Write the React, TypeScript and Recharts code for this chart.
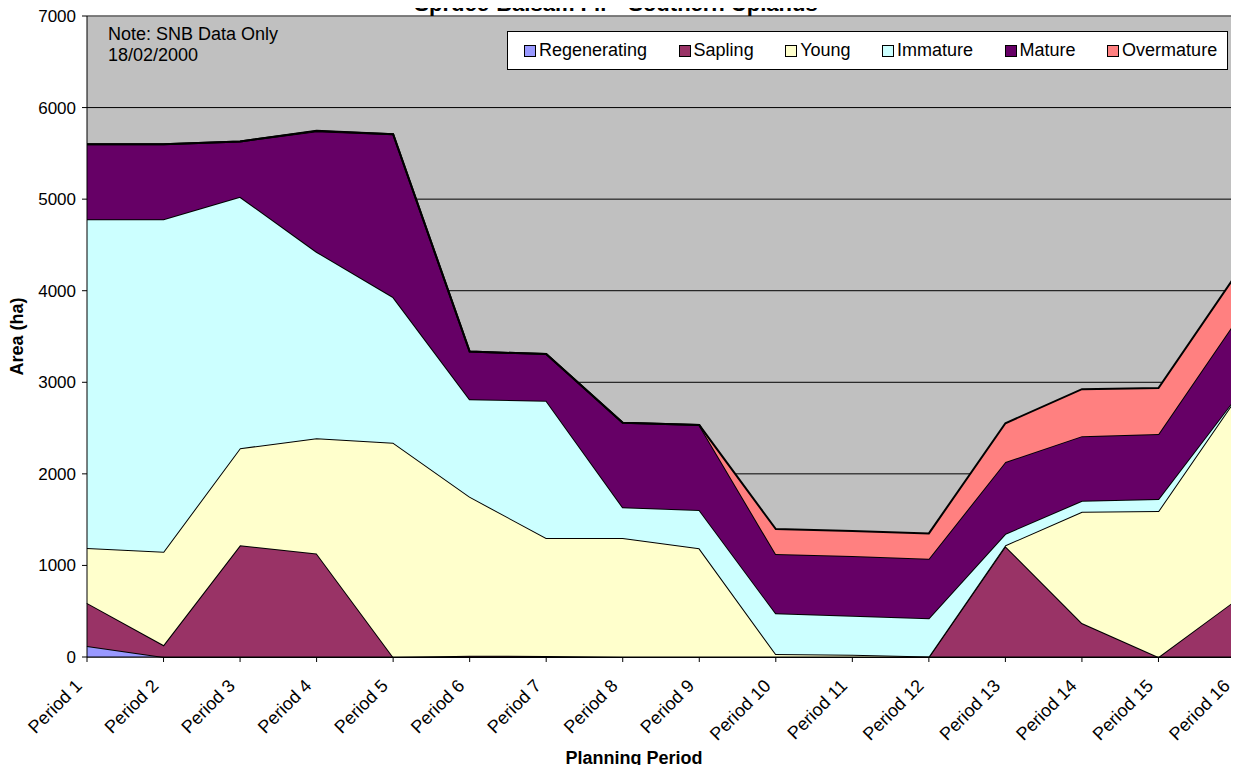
import React from 'react';
import { AreaChart, Area, XAxis, YAxis, CartesianGrid, Legend, ReferenceLine } from 'recharts';

const periods = ['Period 1', 'Period 2', 'Period 3', 'Period 4', 'Period 5', 'Period 6', 'Period 7', 'Period 8', 'Period 9', 'Period 10', 'Period 11', 'Period 12', 'Period 13', 'Period 14', 'Period 15', 'Period 16'];
const regenerating = [120, 0, 0, 0, 0, 0, 0, 0, 0, 0, 0, 0, 0, 0, 0, 0];
const sapling = [470, 130, 1220, 1130, 0, 15, 12, 0, 0, 0, 0, 0, 1210, 370, 0, 615];
const young = [600, 1020, 1060, 1260, 2340, 1735, 1288, 1300, 1187, 33, 25, 5, 10, 1216, 1594, 2191];
const immature = [3590, 3630, 2745, 2035, 1590, 1065, 1498, 334, 418, 444, 426, 417, 125, 120, 131, 15];
const mature = [820, 820, 605, 1317, 1780, 520, 510, 924, 928, 647, 652, 651, 785, 706, 709, 836];
const overmature = [0, 0, 0, 5, 0, 0, 0, 0, 0, 273, 272, 277, 423, 513, 503, 503];
const yTicks = [0, 1000, 2000, 3000, 4000, 5000, 6000, 7000];

const seriesNames = ['Regenerating', 'Sapling', 'Young', 'Immature', 'Mature', 'Overmature'];
const seriesColors = ['#9999FF', '#993366', '#FFFFCC', '#CCFFFF', '#660066', '#FF8080'];
const seriesValues = [regenerating, sapling, young, immature, mature, overmature];

const data = periods.map((p, i) => {
  const row: Record<string, string | number> = { period: p };
  seriesNames.forEach((n, k) => { row[n] = seriesValues[k][i]; });
  return row;
});

const FONT = '"Liberation Sans", Arial, sans-serif';

const XTick = (props: any) => {
  const { x, y, payload } = props;
  const ax = x - 4;
  const ay = y + 25;
  return (
    <text x={ax} y={ay} transform={`rotate(-45, ${ax}, ${ay})`} textAnchor="end" fontSize={18} fontFamily={FONT} fill="#000">
      {payload.value}
    </text>
  );
};

const YLabel = (props: any) => {
  const vb = props.viewBox || { x: 0, y: 0, width: 0, height: 0 };
  const cx = 9;
  const cy = vb.y + vb.height / 2;
  return (
    <text x={cx} y={cy} transform={`rotate(-90, ${cx}, ${cy})`} textAnchor="middle" dominantBaseline="central" fontSize={18} fontWeight="bold" fontFamily={FONT} fill="#000">
      Area (ha)
    </text>
  );
};

const XLabel = (props: any) => {
  const vb = props.viewBox || { x: 0, y: 0, width: 0, height: 0 };
  const cx = vb.x + vb.width / 2 - 27;
  const cy = vb.y + 101;
  return (
    <text x={cx} y={cy} textAnchor="middle" dominantBaseline="central" fontSize={18} fontWeight="bold" fontFamily={FONT} fill="#000">
      Planning Period
    </text>
  );
};

const LegendBox = () => (
  <div style={{ width: 721, height: 39, boxSizing: 'border-box', border: '1px solid #000', background: '#fff', display: 'flex', alignItems: 'center', paddingLeft: 16, fontFamily: FONT, fontSize: 18, color: '#000', whiteSpace: 'nowrap' }}>
    {seriesNames.map((n, k) => (
      <div key={n} style={{ display: 'flex', alignItems: 'center', marginRight: 31.5 }}>
        <span style={{ display: 'inline-block', width: 10, height: 10, border: '1px solid #000', background: seriesColors[k], marginRight: 3 }} />
        <span>{n}</span>
      </div>
    ))}
  </div>
);

export default function App() {
  return (
    <div style={{ position: 'relative', width: 1231, height: 765, marginBottom: -8, fontFamily: FONT }}>
      <AreaChart width={1231} height={765} data={data} margin={{ top: 8, right: 4, left: 0, bottom: 0 }}>
        <CartesianGrid fill="#C0C0C0" stroke="#000" strokeWidth={1} vertical={false} />
        <XAxis dataKey="period" interval={0} height={116} tickSize={5} tickMargin={0} tick={<XTick />} axisLine={{ stroke: '#000' }} tickLine={{ stroke: '#000' }} label={<XLabel />} />
        <YAxis domain={[0, 7000]} ticks={yTicks} width={79} tickSize={5} tickMargin={6} interval={0} tick={{ fontSize: 17, fill: '#000', fontFamily: FONT }} axisLine={{ stroke: '#000' }} tickLine={{ stroke: '#000' }} label={<YLabel />} />
        {seriesNames.map((n, k) => (
          <Area key={n} type="linear" dataKey={n} stackId="1" stroke="#000" strokeWidth={2} fill={seriesColors[k]} fillOpacity={1} isAnimationActive={false} />
        ))}
        <ReferenceLine y={7000} stroke="#808080" strokeWidth={1.5} />
        <ReferenceLine x="Period 16" stroke="#808080" strokeWidth={1.5} />
        <Legend layout="horizontal" verticalAlign="middle" align="center" wrapperStyle={{ position: 'absolute', left: 499, top: 23, width: 721, height: 39 }} content={<LegendBox />} />
      </AreaChart>
      <div style={{ position: 'absolute', left: 100, top: 16, fontSize: 18, lineHeight: '21px', fontFamily: FONT, color: '#000' }}>
        <div>Note: SNB Data Only</div>
        <div>18/02/2000</div>
      </div>
      <div style={{ position: 'absolute', left: 0, width: 1216, top: -17, zIndex: 2, textAlign: 'center', fontSize: 22, lineHeight: '26px', fontWeight: 'bold', fontFamily: FONT, color: '#000', whiteSpace: 'nowrap' }}>
        Spruce-Balsam Fir - Southern Uplands
      </div>
    </div>
  );
}
